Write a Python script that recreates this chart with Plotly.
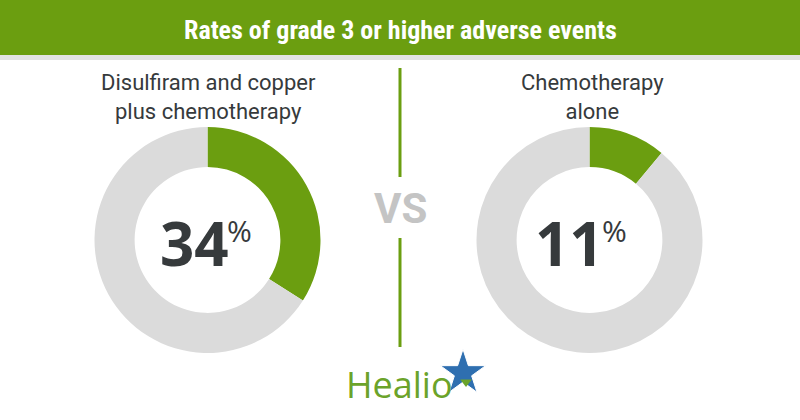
import plotly.graph_objects as go

title = "Rates of grade 3 or higher adverse events"
groups = ["Disulfiram and copper<br>plus chemotherapy", "Chemotherapy<br>alone"]
rates = [34, 11]
slice_labels = ["Grade ≥3 adverse events", "Other"]

GREEN = "#6b9e10"
GRAY = "#dbdbdb"
DARK = "#363a3c"
W, H = 800, 420

def px(x):
    return x / W

def py(y):
    return 1 - y / H

centers = [(207.5, 240), (589.5, 240)]
R = 113

fig = go.Figure()
for (cx, cy), r in zip(centers, rates):
    fig.add_trace(go.Pie(
        values=[r, 100 - r], labels=slice_labels, sort=False, direction="clockwise",
        rotation=0, hole=0.645, textinfo="none", hoverinfo="label+percent",
        marker=dict(colors=[GREEN, GRAY], line=dict(width=0)),
        domain=dict(x=[px(cx - R), px(cx + R)], y=[py(cy + R), py(cy - R)]),
        showlegend=False,
    ))

shapes = [
    dict(type="rect", xref="paper", yref="paper", x0=0, x1=1, y0=py(55), y1=1,
         fillcolor=GREEN, line=dict(width=0), layer="below"),
    dict(type="rect", xref="paper", yref="paper", x0=0, x1=1, y0=py(60), y1=py(55),
         fillcolor="#e3e3e3", line=dict(width=0), layer="below"),
    dict(type="line", xref="paper", yref="paper", x0=0.5, x1=0.5, y0=py(68), y1=py(177),
         line=dict(color=GREEN, width=3)),
    dict(type="line", xref="paper", yref="paper", x0=0.5, x1=0.5, y0=py(238), y1=py(347),
         line=dict(color=GREEN, width=3)),
]

annotations = [
    dict(text="<b>" + title + "</b>", x=0.5, y=py(30), xref="paper", yref="paper",
         showarrow=False, xanchor="center", yanchor="middle",
         font=dict(family="Liberation Sans Narrow, Roboto Condensed, Roboto", size=26, color="white")),
    dict(text="<b>VS</b>", x=0.5, y=py(208), xref="paper", yref="paper", showarrow=False,
         xanchor="center", yanchor="middle",
         font=dict(family="Roboto, Open Sans", size=42, color="#c4c4c4")),
    dict(text="Healio", x=px(399), y=py(384), xref="paper", yref="paper", showarrow=False,
         xanchor="center", yanchor="middle",
         font=dict(family="Open Sans", size=36, color="#6ba32a")),
]

label_x = [208, 592]
num_split = [229, 604]
for lx, ns, g, r in zip(label_x, num_split, groups, rates):
    annotations.append(dict(text=g, x=px(lx), y=py(97), xref="paper", yref="paper",
                            showarrow=False, xanchor="center", yanchor="middle",
                            font=dict(family="Roboto", size=22, color=DARK)))
    annotations.append(dict(text="<b>%d</b>" % r, x=px(ns + 2), y=py(243), xref="paper", yref="paper",
                            showarrow=False, xanchor="right", yanchor="middle",
                            font=dict(family="Open Sans, Roboto", size=60, color=DARK)))
    annotations.append(dict(text="%", x=px(ns - 4), y=py(230), xref="paper", yref="paper",
                            showarrow=False, xanchor="left", yanchor="middle",
                            font=dict(family="Open Sans, Roboto", size=30, color=DARK)))

# logo star
fig.add_trace(go.Scatter(x=[px(463)], y=[py(373)], mode="markers", xaxis="x", yaxis="y",
                         marker=dict(symbol="star", size=34, color="#2f6fb0",
                                     line=dict(color="white", width=1)),
                         hoverinfo="skip", showlegend=False))
fig.add_trace(go.Scatter(x=[px(466)], y=[py(382)], mode="markers", xaxis="x", yaxis="y",
                         marker=dict(symbol="triangle-down", size=10, color="#6ba32a"),
                         hoverinfo="skip", showlegend=False))

fig.update_layout(
    width=W, height=H, margin=dict(l=0, r=0, t=0, b=0),
    paper_bgcolor="white", plot_bgcolor="rgba(0,0,0,0)",
    xaxis=dict(range=[0, 1], visible=False, domain=[0, 1], fixedrange=True),
    yaxis=dict(range=[0, 1], visible=False, domain=[0, 1], fixedrange=True),
    shapes=shapes, annotations=annotations,
)

fig.write_html("out.html", config={"displayModeBar": False},
               post_script="document.body.style.margin='0';document.body.style.overflow='hidden';")
